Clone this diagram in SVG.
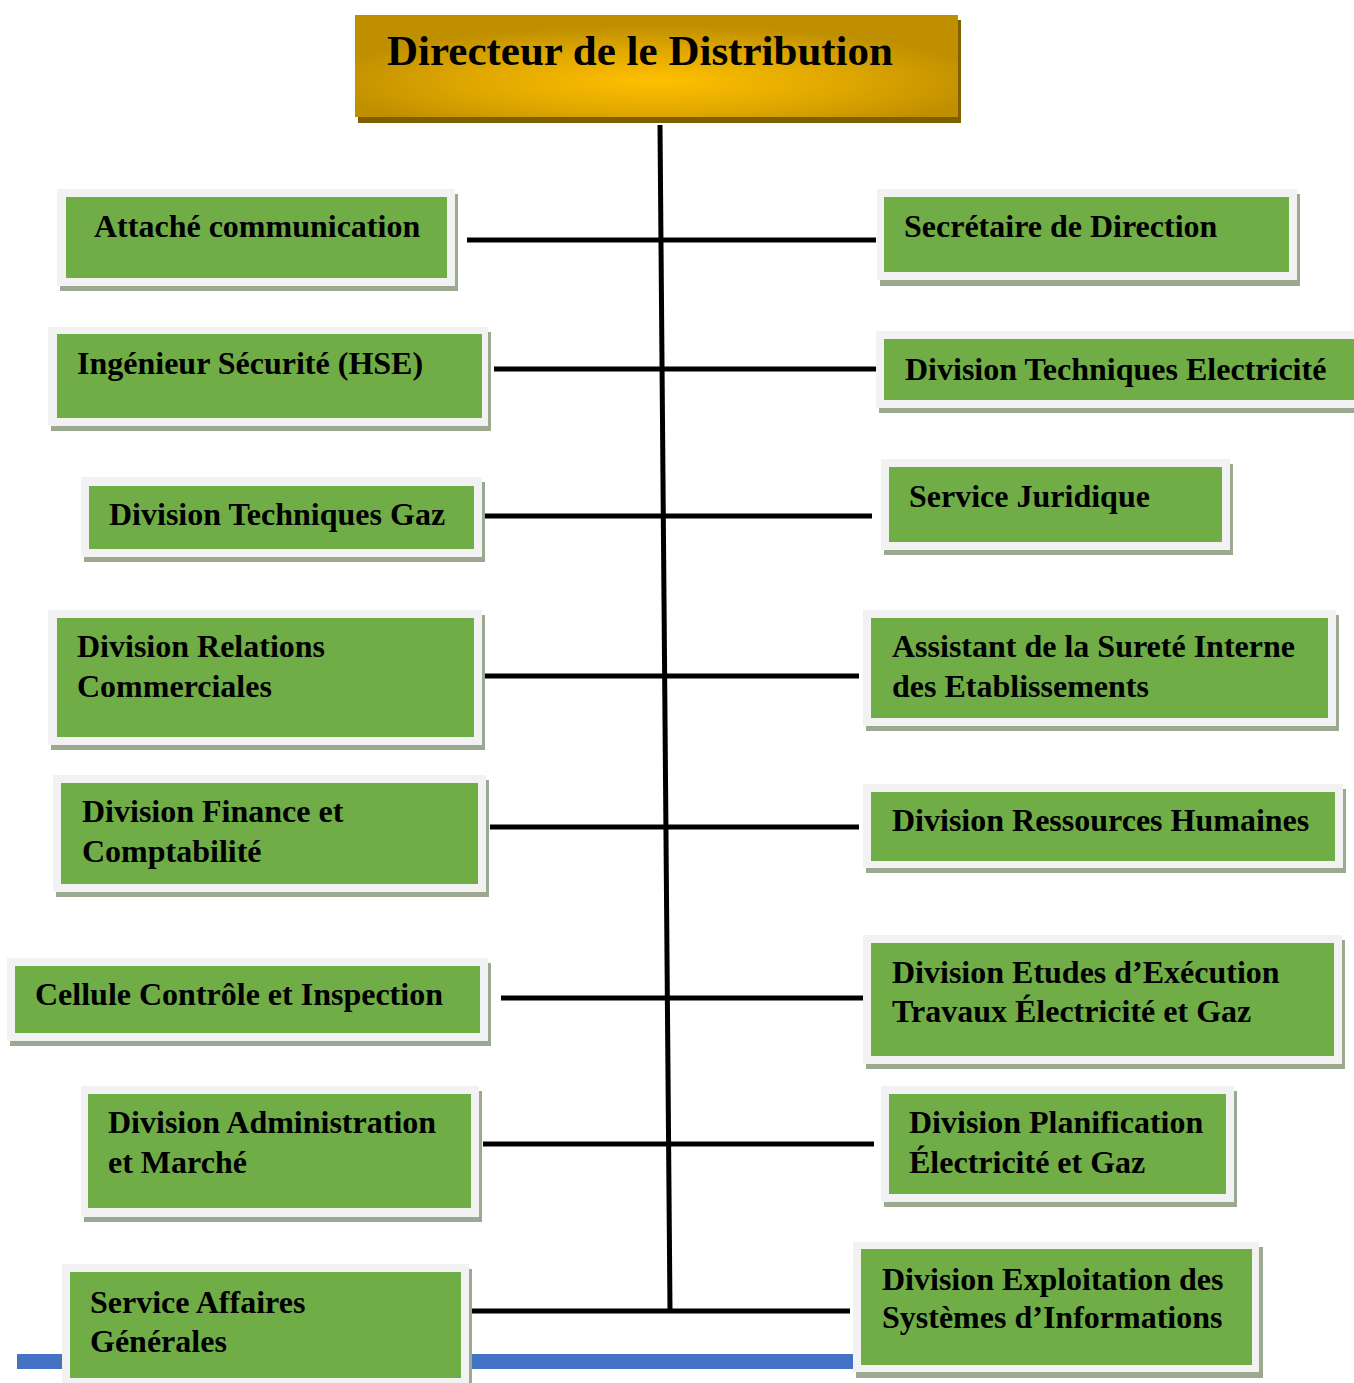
<svg xmlns="http://www.w3.org/2000/svg" width="1354" height="1383" viewBox="0 0 1354 1383">
  <style>
    .shadow { fill: #9aa98f; }
    .frame { fill: #f2f2f2; }
    .fill { fill: #70ad47; }
    .label { font-family: "Liberation Serif", "Times New Roman", serif; font-weight: bold; font-size: 32px; fill: #000; }
    .title { font-family: "Liberation Serif", "Times New Roman", serif; font-weight: bold; font-size: 43px; fill: #000; }
    .link { stroke: #000; stroke-width: 5; fill: none; }
  </style>
  <defs>
    <radialGradient id="gold" cx="0.5" cy="0.65" r="0.55" fx="0.5" fy="0.65">
      <stop offset="0" stop-color="#ffc000"/>
      <stop offset="0.55" stop-color="#e0a800"/>
      <stop offset="1" stop-color="#bf8f00"/>
    </radialGradient>
  </defs>

  <rect width="1354" height="1383" fill="#ffffff"/>

  <!-- blue rule along the page foot -->
  <rect x="17" y="1354" width="838" height="15" fill="#4472c4"/>

  <g id="connectors">
    <line class="link" x1="660" y1="125" x2="670" y2="1311"/>
    <line class="link" x1="467" y1="240" x2="876" y2="240"/>
    <line class="link" x1="494" y1="369" x2="876" y2="369"/>
    <line class="link" x1="484" y1="516" x2="872" y2="516"/>
    <line class="link" x1="483" y1="676" x2="859" y2="676"/>
    <line class="link" x1="490" y1="827" x2="859" y2="827"/>
    <line class="link" x1="501" y1="998" x2="869" y2="998"/>
    <line class="link" x1="483" y1="1144" x2="874" y2="1144"/>
    <line class="link" x1="472" y1="1311" x2="850" y2="1311"/>
  </g>

  <g id="directeur">
    <rect x="358" y="20" width="603" height="103" fill="#7f6000"/>
    <rect x="355" y="15" width="603" height="102" fill="url(#gold)"/>
    <text class="title" x="387" y="65">Directeur de le Distribution</text>
  </g>

  <!-- left column -->
  <g id="attache-communication">
    <rect class="shadow" x="60" y="194" width="398" height="97"/>
    <rect class="frame" x="57" y="189" width="398" height="97"/>
    <rect class="fill" x="66" y="197" width="381" height="81"/>
    <text class="label" x="94" y="237">Attaché communication</text>
  </g>

  <g id="ingenieur-securite">
    <rect class="shadow" x="51" y="332" width="440" height="99"/>
    <rect class="frame" x="48" y="327" width="440" height="99"/>
    <rect class="fill" x="57" y="334" width="425" height="84"/>
    <text class="label" x="77" y="374">Ingénieur Sécurité (HSE)</text>
  </g>

  <g id="division-techniques-gaz">
    <rect class="shadow" x="84" y="482" width="401" height="80"/>
    <rect class="frame" x="81" y="477" width="401" height="80"/>
    <rect class="fill" x="89" y="486" width="385" height="63"/>
    <text class="label" x="109" y="525">Division Techniques Gaz</text>
  </g>

  <g id="division-relations-commerciales">
    <rect class="shadow" x="51" y="615" width="434" height="135"/>
    <rect class="frame" x="48" y="610" width="434" height="135"/>
    <rect class="fill" x="57" y="618" width="417" height="119"/>
    <text class="label" x="77" y="657">Division Relations</text>
    <text class="label" x="77" y="697">Commerciales</text>
  </g>

  <g id="division-finance">
    <rect class="shadow" x="56" y="780" width="433" height="117"/>
    <rect class="frame" x="53" y="775" width="433" height="117"/>
    <rect class="fill" x="61" y="783" width="417" height="101"/>
    <text class="label" x="82" y="822">Division Finance et</text>
    <text class="label" x="82" y="862">Comptabilité</text>
  </g>

  <g id="cellule-controle">
    <rect class="shadow" x="10" y="963" width="481" height="83"/>
    <rect class="frame" x="7" y="958" width="481" height="83"/>
    <rect class="fill" x="15" y="966" width="465" height="67"/>
    <text class="label" x="35" y="1005">Cellule Contrôle et Inspection</text>
  </g>

  <g id="division-administration">
    <rect class="shadow" x="84" y="1091" width="398" height="131"/>
    <rect class="frame" x="81" y="1086" width="398" height="131"/>
    <rect class="fill" x="88" y="1094" width="383" height="114"/>
    <text class="label" x="108" y="1133">Division Administration</text>
    <text class="label" x="108" y="1173">et Marché</text>
  </g>

  <g id="service-affaires-generales">
    <rect class="shadow" x="65" y="1269" width="407" height="125"/>
    <rect class="frame" x="62" y="1264" width="407" height="125"/>
    <rect class="fill" x="70" y="1272" width="391" height="106"/>
    <text class="label" x="90" y="1313">Service Affaires</text>
    <text class="label" x="90" y="1352">Générales</text>
  </g>

  <!-- right column -->
  <g id="secretaire-direction">
    <rect class="shadow" x="880" y="194" width="420" height="92"/>
    <rect class="frame" x="877" y="189" width="420" height="91"/>
    <rect class="fill" x="884" y="197" width="405" height="75"/>
    <text class="label" x="904" y="237">Secrétaire de Direction</text>
  </g>

  <g id="division-techniques-electricite">
    <rect class="shadow" x="879" y="336" width="480" height="77"/>
    <rect class="frame" x="876" y="331" width="480" height="77"/>
    <rect class="fill" x="884" y="339" width="472" height="61"/>
    <text class="label" x="905" y="380">Division Techniques Electricité</text>
  </g>

  <g id="service-juridique">
    <rect class="shadow" x="884" y="464" width="349" height="91"/>
    <rect class="frame" x="881" y="459" width="349" height="91"/>
    <rect class="fill" x="889" y="467" width="333" height="75"/>
    <text class="label" x="909" y="507">Service Juridique</text>
  </g>

  <g id="assistant-surete">
    <rect class="shadow" x="866" y="615" width="473" height="116"/>
    <rect class="frame" x="863" y="610" width="473" height="116"/>
    <rect class="fill" x="871" y="618" width="457" height="100"/>
    <text class="label" x="892" y="657">Assistant de la Sureté Interne</text>
    <text class="label" x="892" y="697">des Etablissements</text>
  </g>

  <g id="division-ressources-humaines">
    <rect class="shadow" x="866" y="789" width="480" height="84"/>
    <rect class="frame" x="863" y="784" width="480" height="84"/>
    <rect class="fill" x="871" y="792" width="464" height="69"/>
    <text class="label" x="892" y="831">Division Ressources Humaines</text>
  </g>

  <g id="division-etudes-execution">
    <rect class="shadow" x="866" y="940" width="479" height="129"/>
    <rect class="frame" x="863" y="935" width="479" height="129"/>
    <rect class="fill" x="871" y="943" width="463" height="113"/>
    <text class="label" x="892" y="983">Division Etudes d’Exécution</text>
    <text class="label" x="892" y="1022">Travaux Électricité et Gaz</text>
  </g>

  <g id="division-planification">
    <rect class="shadow" x="884" y="1091" width="353" height="116"/>
    <rect class="frame" x="881" y="1086" width="353" height="116"/>
    <rect class="fill" x="889" y="1094" width="337" height="100"/>
    <text class="label" x="909" y="1133">Division Planification</text>
    <text class="label" x="909" y="1173">Électricité et Gaz</text>
  </g>

  <g id="division-exploitation-si">
    <rect class="shadow" x="856" y="1247" width="407" height="131"/>
    <rect class="frame" x="853" y="1242" width="406" height="130"/>
    <rect class="fill" x="861" y="1249" width="391" height="116"/>
    <text class="label" x="882" y="1290">Division Exploitation des</text>
    <text class="label" x="882" y="1328">Systèmes d’Informations</text>
  </g>
</svg>
